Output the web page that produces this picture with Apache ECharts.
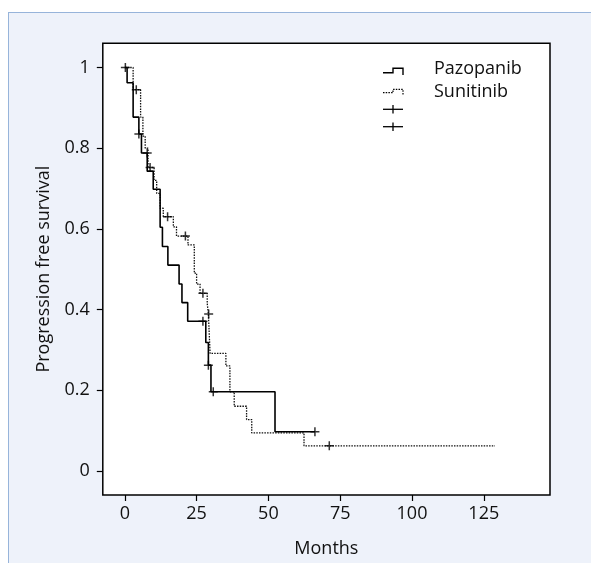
<!DOCTYPE html>
<html>
<head>
<meta charset="utf-8">
<script src="https://cdn.jsdelivr.net/npm/echarts@6/dist/echarts.min.js"></script>
<style>
html,body{margin:0;padding:0;background:#fff;width:591px;height:563px;overflow:hidden;}
#panel{position:absolute;left:8px;top:12px;width:600px;height:600px;background:#EEF2FA;border-left:1.5px solid #97B4DA;border-top:1.5px solid #97B4DA;}
#chart{position:absolute;left:0;top:0;width:591px;height:563px;}
</style>
</head>
<body>
<div id="panel"></div>
<div id="chart"></div>
<script>
// Kaplan-Meier step points (months, survival)
var pazTime = [0, 0.8, 2.9, 4.9, 5.8, 7.8, 9.9, 12.3, 13.1, 15.0, 18.9, 19.9, 21.9, 28.2, 29.1, 30.0, 52.3, 66.2];
var pazSurv = [1, 0.962, 0.877, 0.835, 0.788, 0.743, 0.698, 0.604, 0.556, 0.510, 0.463, 0.417, 0.371, 0.318, 0.262, 0.196, 0.097, 0.097];
var pazCensTime = [0.2, 4.9, 7.8, 27.2, 29.1, 30.8, 66.2];
var pazCensSurv = [1.0, 0.835, 0.788, 0.371, 0.262, 0.196, 0.097];

var sunTime = [0, 2.9, 5.5, 6.3, 7.1, 8.1, 10.2, 11.1, 12.3, 13.4, 16.9, 18.0, 22.0, 24.2, 25.0, 26.2, 28.7, 29.1, 29.7, 35.2, 36.6, 38.1, 42.4, 44.2, 62.4, 128.9];
var sunSurv = [1, 0.945, 0.877, 0.83, 0.80, 0.752, 0.72, 0.688, 0.651, 0.630, 0.605, 0.582, 0.560, 0.490, 0.463, 0.440, 0.415, 0.389, 0.291, 0.260, 0.196, 0.160, 0.127, 0.094, 0.062, 0.062];
var sunCensTime = [4.0, 8.8, 14.9, 21.1, 27.2, 29.2, 71.2];
var sunCensSurv = [0.945, 0.752, 0.630, 0.582, 0.440, 0.389, 0.062];

var xTicks = [0, 25, 50, 75, 100, 125];
var yTicks = [0, 0.2, 0.4, 0.6, 0.8, 1];
var seriesNames = ['Pazopanib', 'Sunitinib'];

function zip(a, b) { return a.map(function (v, i) { return [v, b[i]]; }); }

var FONT = '"Open Sans", "Noto Sans", sans-serif';
var TXT = '#111';
var FS = 18;
var plus = 'path://M0,5L10,5M5,0L5,10';

var chart = echarts.init(document.getElementById('chart'), null, {renderer: 'canvas'});
chart.setOption({
  backgroundColor: 'transparent',
  animation: false,
  textStyle: {fontFamily: FONT},
  grid: {left: 102.8, top: 43.3, width: 447.2, height: 452.4, show: true,
         backgroundColor: '#fff', borderColor: '#000', borderWidth: 1.5, containLabel: false},
  xAxis: {
    type: 'value', min: -7.66, max: 148.05, position: 'bottom',
    name: 'Months', nameLocation: 'middle', nameGap: 45,
    nameTextStyle: {fontSize: FS, color: TXT, fontFamily: FONT},
    axisLine: {show: false, onZero: false},
    splitLine: {show: false},
    axisTick: {show: true, inside: false, length: 6, lineStyle: {color: '#000', width: 1.2}, customValues: xTicks},
    axisLabel: {fontSize: FS, color: TXT, margin: 10, fontFamily: FONT, customValues: xTicks}
  },
  yAxis: {
    type: 'value', min: -0.06, max: 1.06, position: 'left',
    name: 'Progression free survival', nameLocation: 'middle', nameGap: 50,
    nameTextStyle: {fontSize: FS, color: TXT, fontFamily: FONT},
    axisLine: {show: false, onZero: false},
    splitLine: {show: false},
    axisTick: {show: true, inside: false, length: 6, lineStyle: {color: '#000', width: 1.2}, customValues: yTicks},
    axisLabel: {fontSize: FS, color: TXT, margin: 13, fontFamily: FONT, customValues: yTicks}
  },
  series: [
    {name: seriesNames[0], type: 'line', step: 'end', data: zip(pazTime, pazSurv), showSymbol: false,
     lineStyle: {color: '#000', width: 1.6}, z: 3},
    {name: seriesNames[1], type: 'line', step: 'end', data: zip(sunTime, sunSurv), showSymbol: false,
     lineStyle: {color: '#111', width: 1.3, type: [1.5, 1.2]}, z: 2},
    {type: 'scatter', data: zip(pazCensTime, pazCensSurv), symbol: plus, symbolSize: 9,
     itemStyle: {color: 'none', borderColor: '#000', borderWidth: 1.5}, z: 4},
    {type: 'scatter', data: zip(sunCensTime, sunCensSurv), symbol: plus, symbolSize: 9,
     itemStyle: {color: 'none', borderColor: '#000', borderWidth: 1.5}, z: 4}
  ],
  graphic: [
    {type: 'polyline', shape: {points: [[383, 72.7], [393, 72.7], [393, 68.3], [403, 68.3], [403, 75]]},
     style: {stroke: '#000', lineWidth: 1.4, fill: null}},
    {type: 'polyline', shape: {points: [[383, 92.7], [393, 92.7], [393, 89.3], [403, 89.3], [403, 95]]},
     style: {stroke: '#000', lineWidth: 1.2, fill: null, lineDash: [1.5, 1.2]}},
    {type: 'polyline', shape: {points: [[383, 109.3], [403, 109.3]]}, style: {stroke: '#000', lineWidth: 1.3}},
    {type: 'polyline', shape: {points: [[393, 105], [393, 113.5]]}, style: {stroke: '#000', lineWidth: 1.3}},
    {type: 'polyline', shape: {points: [[383, 126.7], [403, 126.7]]}, style: {stroke: '#000', lineWidth: 1.3}},
    {type: 'polyline', shape: {points: [[393, 122.5], [393, 131]]}, style: {stroke: '#000', lineWidth: 1.3}},
    {type: 'text', left: 434, top: 60, style: {text: seriesNames[0], font: FS + 'px ' + FONT, fill: TXT}},
    {type: 'text', left: 434, top: 83, style: {text: seriesNames[1], font: FS + 'px ' + FONT, fill: TXT}}
  ]
});
</script>
</body>
</html>
